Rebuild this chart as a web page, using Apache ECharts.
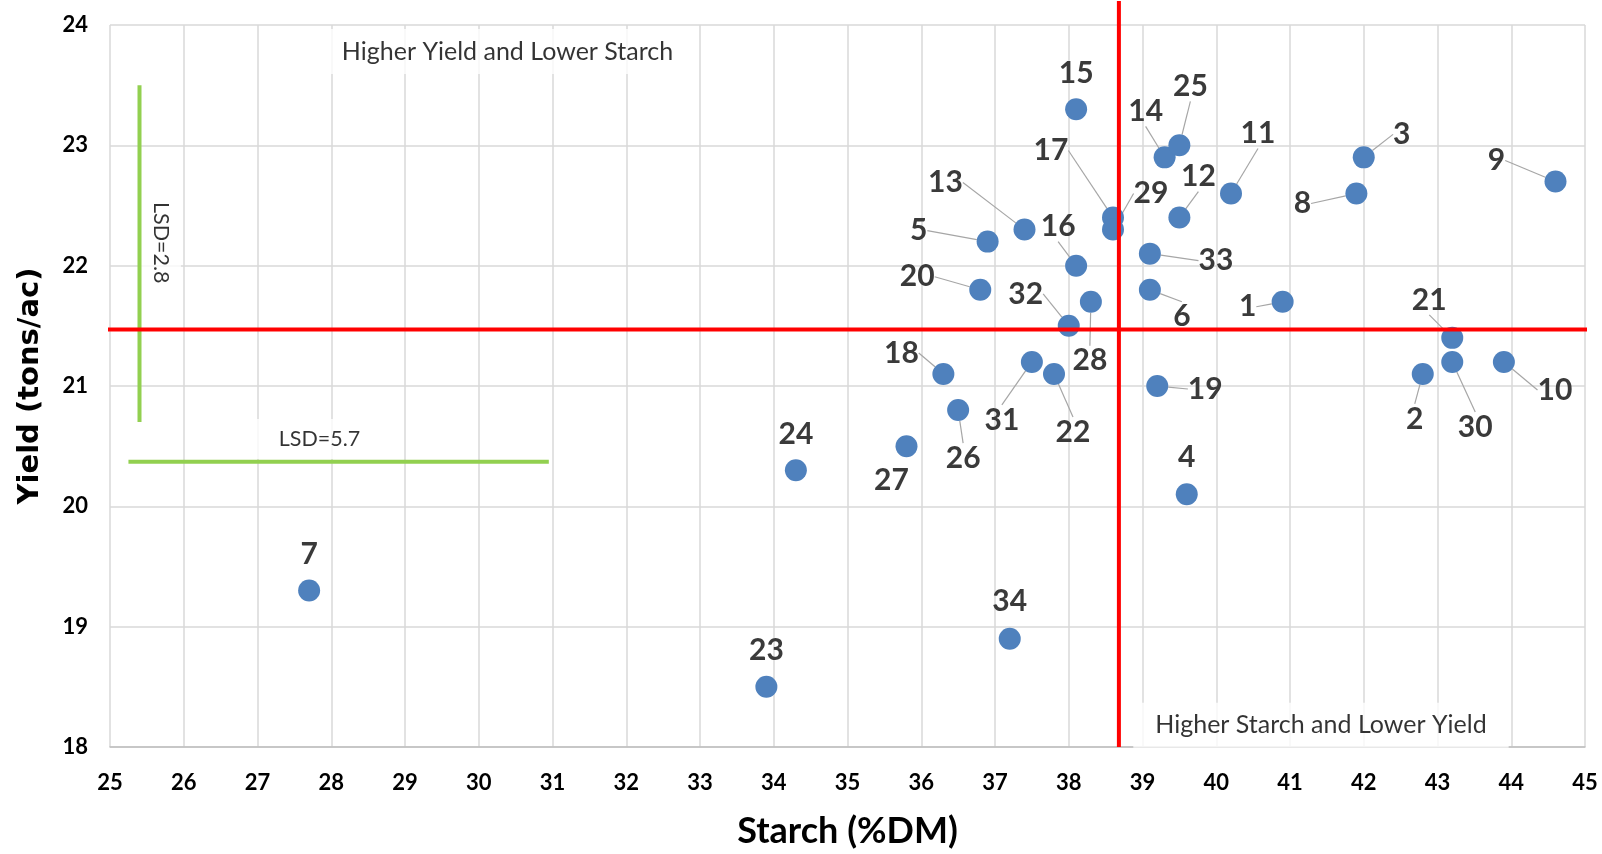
<!DOCTYPE html>
<html>
<head>
<meta charset="utf-8">
<script src="https://cdn.jsdelivr.net/npm/echarts@6/dist/echarts.min.js"></script>
<style>
html,body{margin:0;padding:0;background:#fff;}
#chart{width:1602px;height:854px;}
</style>
</head>
<body>
<div id="chart"></div>
<script>
// ---- data ----
const genotypes = ['1','2','3','4','5','6','7','8','9','10','11','12','13','14','15','16','17','18','19','20','21','22','23','24','25','26','27','28','29','30','31','32','33','34'];
const starch = [40.9,42.8,42.0,39.6,36.9,39.1,27.7,41.9,44.6,43.9,40.2,39.5,37.4,39.3,38.1,38.1,38.6,36.3,39.2,36.8,43.2,37.8,33.9,34.3,39.5,36.5,35.8,38.3,38.6,43.2,37.5,38.0,39.1,37.2];
const yieldTons = [21.7,21.1,22.9,20.1,22.2,21.8,19.3,22.6,22.7,21.2,22.6,22.4,22.3,22.9,23.3,22.0,22.4,21.1,21.0,21.8,21.4,21.1,18.5,20.3,23.0,20.8,20.5,21.7,22.3,21.2,21.2,21.5,22.1,18.9];
const meanStarch = 38.68;
const meanYield = 21.47;
const lsdYield = 2.8;
const lsdStarch = 5.7;
const lsdYieldBar = {x: 25.4, from: 20.7};
const lsdStarchBar = {y: 20.37, from: 25.25};
const quadrantNotes = ['Higher Yield and Lower Starch', 'Higher Starch and Lower Yield'];
const quadrantNoteX = [30.39, 41.42];
const quadrantNoteY = [23.78, 18.18];
const xTicks = {min: 25, max: 45, interval: 1};
const yTicks = {min: 18, max: 24, interval: 1};

// ---- label placement (pixels) ----
const labelOffsets = {1:[-35,5],2:[-8,45],3:[38,-23],4:[0,-37],5:[-69,-11],6:[32,27],7:[0,-36],8:[-54,10],9:[-59,-21],10:[51,28],11:[27,-60],12:[19,-41],13:[-79,-47],14:[-19,-46],15:[0,-36],16:[-18,-39],17:[-62,-67],18:[-42,-21],19:[48,3],20:[-63,-13],21:[-23,-38],22:[19,58],23:[0,-37],24:[0,-36],25:[11,-59],26:[5,48],27:[-15,34],28:[-1,59],29:[38,-36],30:[23,65],31:[-30,58],32:[-43,-32],33:[66,7],34:[0,-37]};
const noLeader = ['4','7','15','23','24','27','34'];

const chart = echarts.init(document.getElementById('chart'), null, {renderer: 'canvas'});

const pts = genotypes.map((g, i) => ({
  value: [starch[i], yieldTons[i], g],
  labelLine: {show: noLeader.indexOf(g) < 0}
}));

const labelFont = "Lato, 'Open Sans', sans-serif";
const noteFont = "Lato, 'Open Sans', sans-serif";

const option = {
  animation: false,
  grid: {left: 110, right: 17, top: 25, bottom: 106, containLabel: false},
  xAxis: {
    type: 'value', min: xTicks.min, max: xTicks.max, interval: xTicks.interval,
    name: 'Starch (%DM)', nameLocation: 'middle', nameGap: 66,
    nameTextStyle: {fontFamily: labelFont, fontWeight: 'bold', fontSize: 36, color: '#000'},
    axisLine: {show: true, lineStyle: {color: '#bfbfbf', width: 1.5}},
    axisTick: {show: false},
    axisLabel: {fontFamily: labelFont, fontWeight: 'bold', fontSize: 22, color: '#000', margin: 25},
    splitLine: {show: true, lineStyle: {color: '#d9d9d9', width: 1.5}}
  },
  yAxis: {
    type: 'value', min: yTicks.min, max: yTicks.max, interval: yTicks.interval,
    name: 'Yield (tons/ac)', nameLocation: 'middle', nameGap: 65, nameRotate: 90,
    nameTextStyle: {fontFamily: "'DejaVu Sans', sans-serif", fontWeight: 'bold', fontSize: 29, color: '#000'},
    axisLine: {show: false},
    axisTick: {show: false},
    axisLabel: {fontFamily: labelFont, fontWeight: 'bold', fontSize: 22, color: '#000', margin: 22},
    splitLine: {show: true, lineStyle: {color: '#d9d9d9', width: 1.5}}
  },
  series: [
    {
      name: 'notes', type: 'scatter', symbolSize: 0, z: 3,
      data: quadrantNotes.map((t, i) => [quadrantNoteX[i], quadrantNoteY[i], t]),
      label: {
        show: true, position: 'inside', formatter: p => p.value[2],
        fontFamily: noteFont, fontSize: 25, color: '#000',
        backgroundColor: '#fff', padding: [10, 22]
      }
    },
    {
      name: 'lsdText', type: 'scatter', symbolSize: 0, z: 3,
      data: [
        {value: [25.69, 22.19, 'LSD=' + lsdYield], label: {rotate: -90}},
        {value: [27.84, 20.56, 'LSD=' + lsdStarch]}
      ],
      label: {
        show: true, position: 'inside', formatter: p => p.value[2],
        fontFamily: noteFont, fontSize: 21.5, color: '#000',
        backgroundColor: '#fff', padding: [9, 22]
      }
    },
    {
      name: 'lsdYield', type: 'line', symbol: 'none', z: 4,
      data: [[lsdYieldBar.x, lsdYieldBar.from], [lsdYieldBar.x, lsdYieldBar.from + lsdYield]],
      lineStyle: {color: '#92D050', width: 4}
    },
    {
      name: 'lsdStarch', type: 'line', symbol: 'none', z: 4,
      data: [[lsdStarchBar.from, lsdStarchBar.y], [lsdStarchBar.from + lsdStarch, lsdStarchBar.y]],
      lineStyle: {color: '#92D050', width: 4}
    },
    {
      name: 'genotypes', type: 'scatter', symbol: 'circle', symbolSize: 22, z: 5,
      itemStyle: {color: '#4F81BD', opacity: 1},
      data: pts,
      label: {
        show: true, position: 'inside', formatter: p => p.value[2],
        fontFamily: labelFont, fontWeight: 'bold', fontSize: 30, color: '#3a3a3a'
      },
      labelLine: {show: true, lineStyle: {color: '#a6a6a6', width: 1.2}},
      labelLayout: function (params) {
        const g = genotypes[params.dataIndex];
        const o = labelOffsets[g] || [0, -36];
        return {dx: o[0], dy: o[1]};
      }
    },
    {
      name: 'meanStarch', type: 'line', symbol: 'none', clip: false, z: 6,
      data: [[meanStarch, yTicks.min], [meanStarch, 24.2]],
      lineStyle: {color: '#FF0000', width: 4}
    },
    {
      name: 'meanYield', type: 'line', symbol: 'none', clip: false, z: 6,
      data: [[24.96, meanYield], [45.12, meanYield]],
      lineStyle: {color: '#FF0000', width: 4}
    }
  ]
};
chart.setOption(option);
</script>
</body>
</html>
